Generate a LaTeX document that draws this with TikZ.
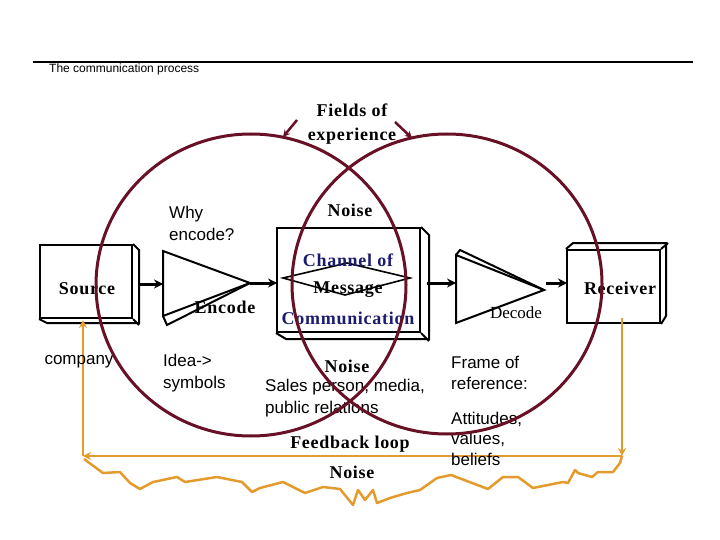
\documentclass[tikz,border=0pt]{standalone}
\usepackage{fontspec}
\setmainfont{Liberation Serif}
\setsansfont{Liberation Sans}
\newfontfamily\bser[LetterSpace=4]{Liberation Serif}
\usetikzlibrary{arrows.meta}
\definecolor{maroon}{RGB}{104,16,38}
\definecolor{feed}{RGB}{228,155,45}
\definecolor{navy}{RGB}{28,28,110}
\tikzset{
 bt/.style={font=\bser\bfseries\fontsize{18}{24}\selectfont, inner sep=0pt, align=center},
 st/.style={font=\sffamily\fontsize{17}{21.5}\selectfont, inner sep=0pt, align=left},
 field/.style={draw=maroon, line width=3pt},
 boxline/.style={draw=black, line width=2pt, line join=miter},
 flow/.style={draw=black, line width=3pt, -{Stealth[length=9pt,width=9pt]}},
 fb/.style={draw=feed, line width=2.5pt, line join=round},
 fbarrow/.style={fb, -{Stealth[length=8pt,width=8pt]}},
 fieldarrow/.style={draw=maroon, line width=2.5pt, -{Stealth[length=7pt,width=7pt]}},
}
\begin{document}
\begin{tikzpicture}[x=1pt,y=-1pt]
\useasboundingbox (0,0) rectangle (720,540);
% header
\coordinate (ruleL) at (33,62);
\coordinate (ruleR) at (693,62);
\draw[line width=2.5pt] (ruleL) -- (ruleR);
\node[anchor=west, font=\sffamily\fontsize{12}{13}\selectfont, inner sep=0pt] (title) at (49,69) {The communication process};

% boxes
\node[boxline, minimum width=92pt, minimum height=73pt, inner sep=0pt] (srcbox) at (86,281.5) {};
\draw[boxline] (srcbox.north east) -- ++(6,6) -- ++(0,73) -- ++(-92,0) -- (srcbox.south west);
\draw[boxline] (srcbox.south east) -- ++(6,6);

\node[boxline, minimum width=143pt, minimum height=104pt, inner sep=0pt] (chbox) at (348.5,280) {};
\draw[boxline] (chbox.north east) -- ++(8,8) -- ++(0,104) -- ++(-143,0) -- (chbox.south west);
\draw[boxline] (chbox.south east) -- ++(8,8);

\node[boxline, minimum width=93pt, minimum height=73pt, inner sep=0pt] (rcvbox) at (613.5,286.5) {};
\draw[boxline] (rcvbox.north west) -- ++(7,-6) -- ++(93,0) -- ++(0,73) -- (rcvbox.south east);
\draw[boxline] (rcvbox.north east) -- ++(7,-6);

% encode triangle
\coordinate (e1) at (163,251);
\coordinate (e2) at (163,316);
\coordinate (etip) at (250,283);
\draw[boxline] (e1) -- (etip) -- (e2) -- cycle;
\draw[boxline] (e2) -- ++(4,9) -- (etip);

% decode triangle
\coordinate (d1) at (456,255);
\coordinate (d2) at (456,323);
\coordinate (dtip) at (544,290);
\draw[boxline] (d1) -- (dtip) -- (d2) -- cycle;
\draw[boxline] (d1) -- ++(4,-5) -- (dtip);

% diamond
\coordinate (dmL) at (283,278);
\coordinate (dmT) at (347,263);
\coordinate (dmR) at (410,278);
\coordinate (dmB) at (345,295);
\draw[line width=1.6pt] (dmL) -- (dmT) -- (dmR) -- (dmB) -- cycle;

% flow arrows
\coordinate (srcR) at (138,284);
\coordinate (encL) at (163,284);
\coordinate (encR) at (250,283);
\coordinate (chL) at (277,283);
\coordinate (chR) at (427,283);
\coordinate (decL) at (456,283);
\coordinate (decR) at (546,283);
\coordinate (rcvL) at (567,283);
\draw[flow] (srcR) -- (encL);
\draw[flow] (encR) -- (chL);
\draw[flow] (chR) -- (decL);
\draw[flow] (decR) -- (rcvL);

% feedback loop
\coordinate (rcvB) at (622,318);
\coordinate (fbR) at (622,456);
\coordinate (fbL) at (83,456);
\coordinate (srcB) at (83,320);
\draw[fbarrow] (rcvB) -- (fbR);
\draw[fbarrow] (fbR) -- (fbL);
\draw[fbarrow] (fbL) -- (srcB);
\draw[fb] (84,459) -- (103,473) -- (120,472) -- (130,483) -- (140,489) -- (153,482) -- (177,477) -- (185,482) -- (217,477) -- (242,482) -- (252,492) -- (260,488) -- (283,482) -- (305,493) -- (323,487) -- (340,489) -- (353,505) -- (358,490) -- (365,500) -- (373,490) -- (377,503) -- (390,498) -- (407,493) -- (420,490) -- (437,478) -- (451,475) -- (488,489) -- (503,477) -- (518,477) -- (533,488) -- (563,482) -- (568,483) -- (575,470) -- (578,473) -- (592,477) -- (598,472) -- (613,472) -- (620,463) -- (622,456);

% texts
\node[bt] (fields) at (352,124) {Fields of\\experience};
\node[bt] (noise1) at (350,210) {Noise};
\node[st, anchor=west] (why) at (169,223.5) {Why\\encode?};
\node[bt] (srctxt) at (87,289) {Source};
\node[bt] (enc) at (225,307) {Encode};
\node[bt, text=navy] (chan) at (348,260) {Channel of};
\node[bt] (msg) at (348,290) {Message};
\node[bt, text=navy] (comm) at (348,318) {Communication};
\node[font=\fontsize{17}{20}\selectfont, inner sep=0pt] (dec) at (516,313) {Decode};
\node[bt] (rcv) at (620,288) {Receiver};
\node[st] (comp) at (79,362) {company};
\node[st, anchor=west] (idea) at (163,373) {Idea->\\symbols};
\node[bt] (noise2) at (347,366) {Noise};
\node[st, anchor=west] (sales) at (265,398) {Sales person, media,\\public relations};
\node[st, anchor=west] (frame) at (451,373) {Frame of\\reference:};
\node[st, anchor=west, font=\sffamily\fontsize{17}{20.5}\selectfont] (att) at (451,438.5) {Attitudes,\\values,\\beliefs};
\node[bt] (fbl) at (350,444) {Feedback loop};
\node[bt] (noise3) at (352,472) {Noise};

% fields of experience
\draw[field] (251,285) ellipse [x radius=155, y radius=151];
\draw[field] (447,284) ellipse [x radius=155, y radius=150];
\coordinate (fa1) at (297,120);
\coordinate (fa2) at (283,137);
\coordinate (fb1) at (395,122);
\coordinate (fb2) at (412,138);
\draw[fieldarrow] (fa1) -- (fa2);
\draw[fieldarrow] (fb1) -- (fb2);
\end{tikzpicture}
\end{document}
